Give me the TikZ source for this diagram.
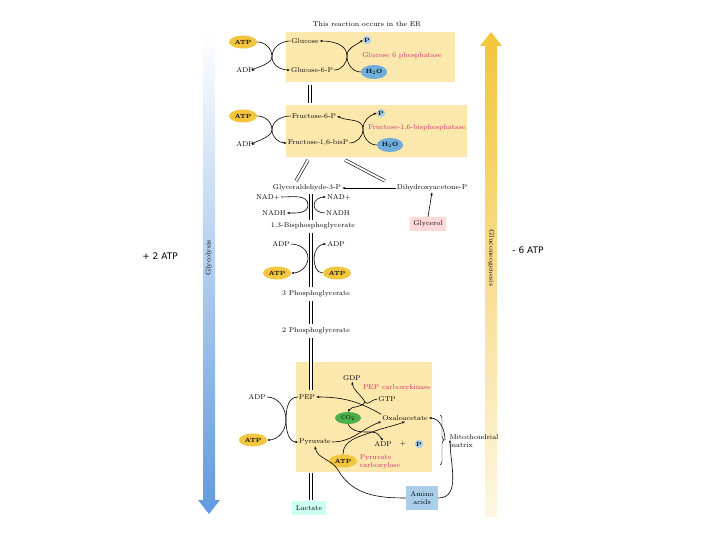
\documentclass[tikz,border=0pt]{standalone}
\usepackage{fontspec}
\newfontfamily\sansf{DejaVu Sans}
\usetikzlibrary{arrows.meta,shapes.geometric,decorations.pathreplacing}
\definecolor{boxy}{HTML}{FCE7AC}
\definecolor{pinkt}{HTML}{D0306A}
\definecolor{atpy}{HTML}{F3C640}
\definecolor{h2ob}{HTML}{6FAEDC}
\begin{document}
\begin{tikzpicture}[x=1pt,y=-1pt,
  t/.style={font=\fontsize{7}{8}\selectfont,inner sep=1pt},
  pk/.style={t,text=pinkt},
  atp/.style={t,ellipse,fill=atpy,inner sep=1.5pt,minimum width=24pt,minimum height=13pt,font=\fontsize{6}{7}\bfseries\selectfont},
  pc/.style={circle,fill=h2ob!60,inner sep=0.5pt,font=\fontsize{6}{7}\bfseries\selectfont},
  h2o/.style={t,ellipse,fill=h2ob,minimum width=22pt,minimum height=14pt,font=\fontsize{6}{7}\bfseries\selectfont},
  ar/.style={-{Stealth[length=3pt]},semithick},
  dbl/.style={semithick,double,double distance=2pt}]
\useasboundingbox (0,0) rectangle (720,540);
% gradient arrows
\shade[top color=white,bottom color=h2ob!90!blue] (203,32) rectangle (215,500);
\fill[h2ob!90!blue] (198,500) -- (220,500) -- (209,514) -- cycle;
\shade[top color=atpy,bottom color=atpy!15] (485,46) rectangle (497,516);
\fill[atpy] (480,46) -- (502,46) -- (491,32) -- cycle;
\node[t,rotate=90] (gly) at (209,258) {Glycolysis};
\node[t,rotate=-90] (glu) at (491,258) {Gluconeogenesis};
\node[font=\sansf\fontsize{9}{10}\selectfont] (p2) at (160,256) {+ 2 ATP};
\node[font=\sansf\fontsize{9}{10}\selectfont] (m6) at (528,250) {- 6 ATP};
% boxes
\fill[boxy] (286,32) rectangle (455,82);
\fill[boxy] (286,105) rectangle (467,157);
\fill[boxy] (296,362) rectangle (432,472);
\node[t] (er) at (367,24) {This reaction occurs in the ER};
% box1
\node[t] (g) at (305,41) {Glucose};
\node[t] (g6) at (312,70) {Glucose-6-P};
\node[atp] (a1) at (243,42) {ATP};
\node[t] (d1) at (245,70) {ADP};
\node[pc] (p1) at (367,40) {P};
\node[pk] (gp) at (402,56) {Glucose 6 phosphatase};
\node[h2o] (w1) at (374,72) {H$_2$O};
\draw[ar] (a1.east) to[out=0,in=90] (272,57) to[out=-90,in=180] (d1.east);
\draw[ar] (g.west) to[out=180,in=90] (272,57) to[out=-90,in=180] (g6.west);
\draw[ar] (g6.east) to[out=0,in=-90] (347,56) to[out=90,in=0] (g.east);
\draw[ar] (w1.west) to[out=180,in=-90] (347,56) to[out=90,in=220] (p1.west);
\draw[dbl] (310,85) -- (310,103);
% box2
\node[t] (f6) at (314,116) {Fructose-6-P};
\node[t] (fb) at (318,143) {Fructose-1,6-bisP};
\node[atp] (a2) at (243,116) {ATP};
\node[t] (d2) at (245,144) {ADP};
\node[pc] (p2c) at (381,113) {P};
\node[pk] (fbp) at (417,128) {Fructose-1,6-bisphosphatase};
\node[h2o] (w2) at (390,145) {H$_2$O};
\draw[ar] (a2.east) to[out=0,in=90] (272,130) to[out=-90,in=180] (d2.east);
\draw[ar] (f6.west) to[out=180,in=90] (272,130) to[out=-90,in=180] (fb.west);
\draw[ar] (fb.east) to[out=0,in=-90] (363,129) to[out=90,in=-30] (f6.east);
\draw[ar] (w2.west) to[out=180,in=-90] (363,129) to[out=90,in=200] (p2c.west);
% triose
\node[t] (gap) at (307,188) {Glyceraldehyde-3-P};
\node[t] (dhap) at (432,188) {Dihydroxyacetone-P};
\node[t,fill=red!15,minimum width=36pt,minimum height=14pt] (glyc) at (428,224) {Glycerol};
\draw[dbl] (308,160) -- (296,181);
\draw[dbl] (345,160) -- (385,181);
\draw[ar] (dhap.west) -- (gap.east);
\draw[ar] (glyc.north) -- (dhap.south);
\node[t] (n1) at (268,197) {NAD+};
\node[t] (n2) at (339,197) {NAD+};
\node[t] (h1) at (274,213) {NADH};
\node[t] (h2) at (338,213) {NADH};
\draw[ar] (n1.east) to[out=0,in=90] (308,205) to[out=-90,in=0] (h1.east);
\draw[ar] (h2.west) to[out=180,in=-90] (314,205) to[out=90,in=180] (n2.west);
\node[t] (bpg) at (313,226) {1,3-Bisphosphoglycerate};
\draw[dbl] (311,194) -- (311,220);
% ATP step
\node[t] (d3) at (281,244) {ADP};
\node[t] (d4) at (336,244) {ADP};
\node[atp] (a3) at (277,273) {ATP};
\node[atp] (a4) at (337,273) {ATP};
\draw[ar] (d3.east) to[out=0,in=90] (308,258) to[out=-90,in=0] (a3.east);
\draw[ar] (a4.west) to[out=180,in=-90] (314,258) to[out=90,in=180] (d4.west);
\draw[dbl] (311,233) -- (311,287);
\node[t] (pg3) at (316,294) {3 Phosphoglycerate};
\draw[dbl] (311,301) -- (311,324);
\node[t] (pg2) at (316,331) {2 Phosphoglycerate};
\draw[dbl] (311,338) -- (311,390);
% box3
\node[t] (pep) at (307,397) {PEP};
\node[t] (gdp) at (352,378) {GDP};
\node[pk] (pck) at (397,388) {PEP carboxykinase};
\node[t] (gtp) at (387,399) {GTP};
\node[t] (d5) at (257,397) {ADP};
\node[t,ellipse,fill=green!55!black!70,minimum width=26pt,minimum height=12pt,font=\fontsize{5.5}{6}\selectfont] (co2) at (348,418) {CO$_2$};
\node[t] (oaa) at (405,418) {Oxaloacetate};
\node[atp] (a5) at (253,440) {ATP};
\node[t] (pyr) at (315,442) {Pyruvate};
\node[t] (d6) at (383,444) {ADP};
\node[t] (plus) at (403,444) {+};
\node[pc] (p3) at (419,444) {P};
\node[atp] (a6) at (343,461) {ATP};
\node[pk,align=left] (pc2) at (380,462) {Pyruvate\\carboxylase};
\draw[ar] (oaa.north west) to[out=150,in=0] (pep.east);
\draw[ar] (gtp.west) to[out=180,in=-60] (365,402) to[out=120,in=-80] (gdp.south);
\draw[ar] (365,402) to[out=-120,in=60] (co2.north);
\draw[ar] (d5.east) to[out=0,in=90] (286,420) to[out=-90,in=180] (pyr.west);
\draw[ar] (pep.west) to[out=180,in=90] (286,420) to[out=-90,in=0] (a5.east);
\draw[ar] (pyr.east) to[out=0,in=200] (oaa.south west);
\draw[ar] (co2.south) to[out=-60,in=180] (372,432) to[out=0,in=130] (d6.north);
\draw[ar] (a6.north) to[out=90,in=200] (372,432) to[out=20,in=200] (oaa.south);
\draw[decorate,decoration={brace,amplitude=4pt}] (440,415) -- (440,465);
\node[t,align=left] (mito) at (474,441) {Mitochondrial\\matrix};
\node[t,fill=h2ob!60,align=center,minimum width=32pt,minimum height=24pt] (aa) at (422,498) {Amino\\acids};
\node[t,fill=green!25!cyan!20,minimum width=34pt,minimum height=14pt] (lac) at (309,508) {Lactate};
\draw[dbl] (311,473) -- (311,500);
\draw[ar] (445,440) to[out=90,in=0] (oaa.east);
\draw[ar] (aa.east) to[out=0,in=-90] (450,440);
\draw[ar] (aa.west) to[out=180,in=-60] (338,470) to[out=120,in=-80] (pyr.south);
\end{tikzpicture}
\end{document}
